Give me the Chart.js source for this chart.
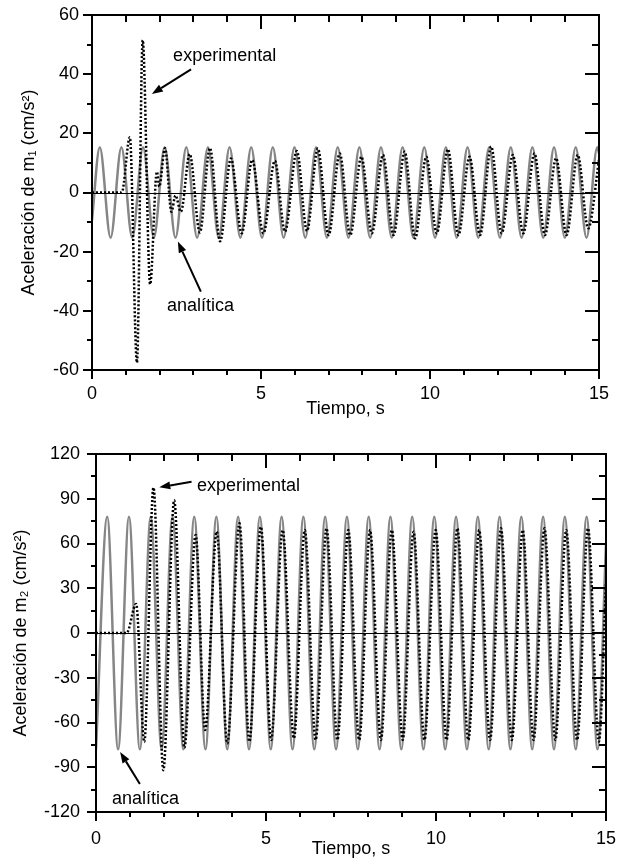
<!DOCTYPE html>
<html lang="es">
<head>
<meta charset="UTF-8">
<title>Aceleración de m1 y m2</title>
<script src="https://cdn.jsdelivr.net/npm/chart.js"></script>
<style>
  body { margin: 0; background: #fff; }
  .panel { width: 617px; height: 432px; }
  canvas { display: block; }
</style>
</head>
<body>
  <div class="panel"><canvas id="chartM1" width="617" height="432"></canvas></div>
  <div class="panel"><canvas id="chartM2" width="617" height="432"></canvas></div>

<script>
// ---- m1 (upper panel) ----
// analítica: start, then peaks/troughs
const timeAna1 = [0, 0.23, 0.55, 0.87, 1.19, 1.51, 1.83, 2.15, 2.47, 2.79, 3.11, 3.43, 3.75, 4.07, 4.39, 4.71, 5.03,
  5.35, 5.67, 5.99, 6.31, 6.63, 6.95, 7.27, 7.59, 7.91, 8.23, 8.55, 8.87, 9.19, 9.51, 9.83, 10.15, 10.47, 10.79,
  11.11, 11.43, 11.75, 12.07, 12.39, 12.71, 13.03, 13.35, 13.67, 13.99, 14.31, 14.63, 14.95, 15];
const accAna1 = [-9.3, 15.3, -15.3, 15.3, -15.3, 15.3, -15.3, 15.3, -15.3, 15.3, -15.3, 15.3, -15.3, 15.3, -15.3,
  15.3, -15.3, 15.3, -15.3, 15.3, -15.3, 15.3, -15.3, 15.3, -15.3, 15.3, -15.3, 15.3, -15.3, 15.3, -15.3, 15.3,
  -15.3, 15.3, -15.3, 15.3, -15.3, 15.3, -15.3, 15.3, -15.3, 15.3, -15.3, 15.3, -15.3, 15.3, -15.3, 15.3, 13.3];

// experimental
const timeExp1 = [0, 0.88, 1.12, 1.33, 1.50, 1.72, 1.92, 1.99, 2.16, 2.35, 2.47, 2.63, 2.89, 3.19, 3.49, 3.79,
  4.11, 4.43, 4.74, 5.07, 5.41, 5.71, 6.06, 6.36, 6.68, 7.00, 7.33, 7.64, 7.97, 8.28, 8.61, 8.92, 9.25, 9.56,
  9.89, 10.20, 10.53, 10.84, 11.17, 11.48, 11.81, 12.12, 12.45, 12.76, 13.09, 13.40, 13.73, 14.04, 14.37, 14.68, 15];
const accExp1 = [0, 0, 18.7, -57.5, 51.5, -31, 7, 2, 15, -6.5, -1, -6.5, 13, -13.5, 15, -16.5,
  11.5, -13.8, 11, -13.8, 10.7, -13.2, 14, -13, 14.9, -14.4, 13.2, -14.4, 12.1, -13.8, 12.7, -14.4, 13.8, -15.5,
  12.1, -13.8, 14.6, -14.4, 12.1, -14.4, 15.5, -13.8, 12.7, -13.8, 13.2, -14.4, 11.6, -14.4, 12.7, -12.1, 11];

// ---- m2 (lower panel) ----
const timeAna2 = [0, 0.33, 0.65, 0.97, 1.29, 1.61, 1.93, 2.25, 2.57, 2.89, 3.22, 3.54, 3.86, 4.18, 4.50, 4.82,
  5.14, 5.46, 5.78, 6.10, 6.42, 6.74, 7.06, 7.38, 7.70, 8.02, 8.34, 8.66, 8.98, 9.30, 9.63, 9.95, 10.27, 10.59,
  10.91, 11.23, 11.55, 11.87, 12.19, 12.51, 12.83, 13.15, 13.47, 13.79, 14.11, 14.43, 14.75, 15];
const accAna2 = [-78, 78, -78, 78, -78, 78, -78, 78, -78, 78, -78, 78, -78, 78, -78, 78, -78, 78, -78, 78, -78,
  78, -78, 78, -78, 78, -78, 78, -78, 78, -78, 78, -78, 78, -78, 78, -78, 78, -78, 78, -78, 78, -78, 78, -78,
  78, -78, 60];

const timeExp2 = [0, 0.90, 1.18, 1.42, 1.69, 1.98, 2.30, 2.60, 2.93, 3.21, 3.55, 3.86, 4.22, 4.51, 4.85, 5.15,
  5.49, 5.82, 6.14, 6.46, 6.78, 7.10, 7.42, 7.74, 8.06, 8.38, 8.70, 9.02, 9.34, 9.66, 9.99, 10.31, 10.63, 10.95,
  11.27, 11.59, 11.91, 12.23, 12.55, 12.87, 13.19, 13.51, 13.83, 14.15, 14.47, 14.79, 15];
const accExp2 = [0, 0, 19.5, -73, 97.5, -92, 89, -77, 65.7, -65, 68, -74, 73.5, -72.8, 71.2, -71.7,
  69, -70.6, 69, -71.7, 70.2, -71.7, 69, -71.7, 69, -71.7, 69, -71.7, 67.9, -71.7, 69, -71.7, 70.2, -71.7,
  69, -71.7, 70.2, -71.7, 69, -71.7, 70.2, -71.7, 69, -71.7, 70.2, -72.8, 34];

const xTicks = [0, 5, 10, 15];

const FONT = '"Liberation Sans", Arial, sans-serif';
Chart.defaults.font.family = FONT;
Chart.defaults.color = '#000';

function points(ts, vs) {
  return ts.map((t, i) => ({ x: t, y: vs[i] }));
}

function drawArrow(ctx, x1, y1, x2, y2) {
  const ang = Math.atan2(y2 - y1, x2 - x1);
  const len = 11, half = 4;
  const bx = x2 - len * Math.cos(ang), by = y2 - len * Math.sin(ang);
  ctx.beginPath();
  ctx.moveTo(x1, y1);
  ctx.lineTo(bx, by);
  ctx.stroke();
  ctx.beginPath();
  ctx.moveTo(x2, y2);
  ctx.lineTo(bx + half * Math.sin(ang), by - half * Math.cos(ang));
  ctx.lineTo(bx - half * Math.sin(ang), by + half * Math.cos(ang));
  ctx.closePath();
  ctx.fill();
}

// box frame, minor/major ticks, zero line and the two labelled arrows
const framePlugin = {
  id: 'frame',
  afterDatasetsDraw(chart, args, opts) {
    const { ctx, chartArea: a, scales: { x, y } } = chart;
    ctx.save();
    ctx.strokeStyle = '#000';
    ctx.fillStyle = '#000';

    ctx.lineWidth = 1;
    const y0 = Math.round(y.getPixelForValue(0)) + 0.5;
    ctx.beginPath();
    ctx.moveTo(a.left, y0);
    ctx.lineTo(a.right, y0);
    ctx.stroke();

    ctx.lineWidth = 2;
    ctx.strokeRect(a.left, a.top, a.right - a.left, a.bottom - a.top);

    const isMajor = (v, step) => Math.abs(v / step - Math.round(v / step)) < 1e-6;
    ctx.beginPath();
    for (let v = x.min; v <= x.max + 1e-9; v += opts.xMinor) {
      const px = Math.round(x.getPixelForValue(v));
      const maj = isMajor(v, opts.xMajor);
      ctx.moveTo(px, a.bottom); ctx.lineTo(px, a.bottom + (maj ? 9 : 5));
      ctx.moveTo(px, a.top); ctx.lineTo(px, a.top + (maj ? 14 : 7));
    }
    for (let v = y.min; v <= y.max + 1e-9; v += opts.yMinor) {
      const py = Math.round(y.getPixelForValue(v));
      const maj = isMajor(v, opts.yMajor);
      ctx.moveTo(a.left, py); ctx.lineTo(a.left - (maj ? 9 : 5), py);
      ctx.moveTo(a.right, py); ctx.lineTo(a.right - (maj ? 14 : 7), py);
    }
    ctx.stroke();

    ctx.font = '18px ' + FONT;
    ctx.textBaseline = 'alphabetic';
    ctx.textAlign = 'left';
    for (const n of opts.notes) {
      ctx.fillText(n.text, x.getPixelForValue(n.at[0]), y.getPixelForValue(n.at[1]));
      drawArrow(ctx,
        x.getPixelForValue(n.from[0]), y.getPixelForValue(n.from[1]),
        x.getPixelForValue(n.to[0]), y.getPixelForValue(n.to[1]));
    }
    ctx.restore();
  }
};

function makeChart(id, cfg) {
  const font = { size: 18, family: FONT };
  return new Chart(document.getElementById(id), {
    type: 'line',
    data: {
      datasets: [
        {
          label: 'experimental',
          data: points(cfg.timeExp, cfg.accExp),
          borderColor: '#000',
          borderWidth: 2.5,
          borderDash: [2, 2],
          borderCapStyle: 'butt',
          pointRadius: 0,
          cubicInterpolationMode: 'monotone',
          fill: false
        },
        {
          label: 'analítica',
          data: points(cfg.timeAna, cfg.accAna),
          borderColor: '#868686',
          borderWidth: 2.5,
          pointRadius: 0,
          cubicInterpolationMode: 'monotone',
          fill: false
        }
      ]
    },
    options: {
      responsive: false,
      animation: false,
      devicePixelRatio: 1,
      layout: { padding: { left: 0, top: cfg.padTop, right: cfg.padRight, bottom: 0 } },
      plugins: {
        legend: { display: false },
        tooltip: { enabled: false },
        frame: { xMajor: 5, xMinor: 1, yMajor: cfg.yStep, yMinor: cfg.yStep / 2, notes: cfg.notes }
      },
      scales: {
        x: {
          type: 'linear', min: 0, max: 15,
          grid: { display: false, drawTicks: false },
          border: { display: false },
          afterBuildTicks: s => { s.ticks = xTicks.map(v => ({ value: v })); },
          ticks: { autoSkip: false, maxRotation: 0, padding: cfg.xTickPad, font },
          title: { display: true, text: 'Tiempo, s', font, padding: { top: 0, bottom: cfg.xTitlePad } },
          afterFit: s => { s.height = cfg.xHeight; s.paddingLeft = 0; s.paddingRight = 0; }
        },
        y: {
          type: 'linear', min: -cfg.yMax, max: cfg.yMax,
          grid: { display: false, drawTicks: false },
          border: { display: false },
          ticks: { stepSize: cfg.yStep, padding: cfg.yTickPad, font },
          title: { display: true, text: cfg.yTitle, font, padding: { top: cfg.yTitlePad, bottom: 0 } },
          afterFit: s => { s.width = cfg.yWidth; s.paddingTop = 0; s.paddingBottom = 0; }
        }
      }
    },
    plugins: [framePlugin]
  });
}

makeChart('chartM1', {
  timeAna: timeAna1, accAna: accAna1, timeExp: timeExp1, accExp: accExp1,
  yMax: 60, yStep: 20,
  yTitle: 'Aceleración de m\u2081 (cm/s\u00B2)',
  padTop: 15, padRight: 18, xHeight: 62, yWidth: 92,
  xTickPad: 13.2, xTitlePad: 12.4, yTickPad: 13, yTitlePad: 18.2,
  notes: [
    { text: 'experimental', at: [2.40, 44.5], from: [2.93, 41.6], to: [1.77, 33.3] },
    { text: 'analítica', at: [2.22, -40.1], from: [3.22, -33.5], to: [2.54, -16.6] }
  ]
});

makeChart('chartM2', {
  timeAna: timeAna2, accAna: accAna2, timeExp: timeExp2, accExp: accExp2,
  yMax: 120, yStep: 30,
  yTitle: 'Aceleración de m\u2082 (cm/s\u00B2)',
  padTop: 22, padRight: 11, xHeight: 52, yWidth: 96,
  xTickPad: 16.2, xTitlePad: 3.7, yTickPad: 16, yTitlePad: 10.2,
  notes: [
    { text: 'experimental', at: [2.97, 95.2], from: [2.81, 101.4], to: [1.86, 97.7] },
    { text: 'analítica', at: [0.47, -114.6], from: [1.29, -101.2], to: [0.71, -79.8] }
  ]
});
</script>
</body>
</html>
